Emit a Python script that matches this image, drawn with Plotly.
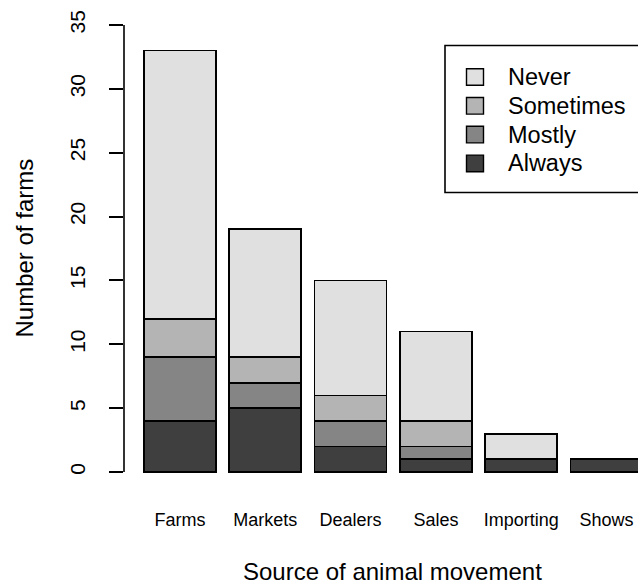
import plotly.graph_objects as go

categories = ["Farms", "Markets", "Dealers", "Sales", "Importing", "Shows"]
always = [4, 5, 2, 1, 1, 1]
mostly = [5, 2, 2, 1, 0, 0]
sometimes = [3, 2, 2, 2, 0, 0]
never = [21, 10, 9, 7, 2, 0]

series_names = ["Always", "Mostly", "Sometimes", "Never"]
series_values = [always, mostly, sometimes, never]
series_colors = ["#3f3f3f", "#858585", "#b4b4b4", "#e0e0e0"]
y_ticks = [0, 5, 10, 15, 20, 25, 30, 35]

W, H = 638, 585
ML, MR, MT, MB = 124, 0, 7, 95
PW = W - ML - MR
PH = H - MT - MB

def px_x(px):
    return (px - ML) / PW

def px_y(py):
    return (H - MB - py) / PH

FONT = "Liberation Sans, Arial, sans-serif"

fig = go.Figure()
for name, vals, col in zip(series_names, series_values, series_colors):
    fig.add_trace(go.Bar(
        x=categories, y=vals, name=name,
        marker=dict(color=col, line=dict(color="black", width=1.8)),
        showlegend=False,
    ))

shapes = []
annotations = []

# y axis line (R style: only from 0 to 35)
shapes.append(dict(type="line", xref="paper", yref="y", x0=0, x1=0,
                   y0=y_ticks[0], y1=y_ticks[-1],
                   line=dict(color="black", width=1.6)))

# legend box
shapes.append(dict(type="rect", xref="paper", yref="paper",
                   x0=px_x(445), x1=px_x(700), y0=px_y(192.5), y1=px_y(45.5),
                   line=dict(color="black", width=1.6), fillcolor="white", layer="above"))
leg_order = list(zip(series_names, series_colors))[::-1]
row0, step = 77, 28.8
for i, (name, col) in enumerate(leg_order):
    cy = row0 + i * step
    shapes.append(dict(type="rect", xref="paper", yref="paper",
                       x0=px_x(466.5), x1=px_x(483.5), y0=px_y(cy + 8.3), y1=px_y(cy - 8.3),
                       line=dict(color="black", width=1.4), fillcolor=col, layer="above"))
    annotations.append(dict(text=name, xref="paper", yref="paper", x=px_x(506), y=px_y(cy),
                            xanchor="left", yanchor="middle", showarrow=False,
                            font=dict(family=FONT, size=23.5, color="black")))

# axis titles
annotations.append(dict(text="Source of animal movement", xref="paper", yref="paper",
                        x=px_x(392), y=px_y(571), xanchor="center", yanchor="middle",
                        showarrow=False, font=dict(family=FONT, size=24, color="black")))
annotations.append(dict(text="Number of farms", xref="paper", yref="paper",
                        x=px_x(24), y=px_y(248.5), xanchor="center", yanchor="middle",
                        textangle=-90, showarrow=False,
                        font=dict(family=FONT, size=24, color="black")))

fig.update_layout(
    width=W, height=H,
    margin=dict(l=ML, r=MR, t=MT, b=MB, pad=0, autoexpand=False),
    barmode="stack", bargap=0.156,
    plot_bgcolor="white", paper_bgcolor="white",
    font=dict(family=FONT, color="black"),
    shapes=shapes, annotations=annotations,
    showlegend=False,
    hovermode=False,
)
fig.update_xaxes(
    automargin=False,
    range=[-0.656, 5.369], showgrid=False, zeroline=False, showline=False,
    ticks="", tickfont=dict(family=FONT, size=18, color="black"),
    ticklabelstandoff=17,
)
fig.update_yaxes(
    automargin=False,
    range=[-1.4, 36.4], showgrid=False, zeroline=False, showline=False,
    tickmode="array", tickvals=y_ticks, ticktext=[str(v) for v in y_ticks],
    ticks="outside", ticklen=14, tickwidth=1.6, tickcolor="black",
    tickangle=-90, tickfont=dict(family=FONT, size=21, color="black"),
    ticklabelstandoff=16,
)

fig.write_html(
    "out.html",
    config={"displayModeBar": False},
    post_script="document.body.style.margin='0px';document.body.style.overflow='hidden';",
)
